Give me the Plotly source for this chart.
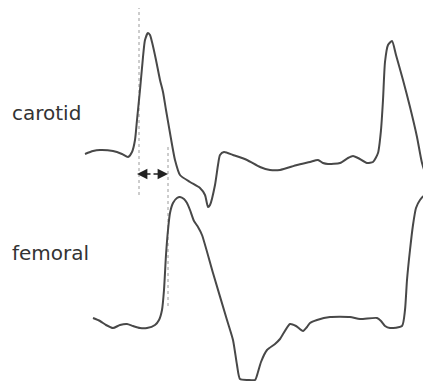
import plotly.graph_objects as go

# Waveform samples (time in px-like units, amplitude axis inverted)
carotid_t = [85, 93, 100, 113, 122, 128, 132, 135, 137, 140, 142, 145, 148, 150, 152, 156, 160, 163, 166, 170,
             175, 180, 190, 200, 205, 208, 210, 215, 218, 220, 224, 233, 247, 260, 270, 280, 297, 310, 318, 323,
             328, 340, 348, 353, 358, 367, 373, 378, 381, 383, 385, 388, 392, 396, 403, 410, 417, 422, 427, 431]
carotid_v = [154, 151, 150, 151, 154, 157, 152, 140, 120, 90, 68, 40, 33, 35, 42, 60, 80, 92, 110, 133,
             160, 175, 182, 188, 195, 207, 205, 185, 165, 155, 152, 155, 160, 167, 170, 170, 165, 162, 160, 163,
             164, 163, 158, 156, 158, 163, 162, 153, 130, 100, 62, 45, 41, 55, 80, 107, 137, 163, 177, 183]

femoral_t = [93, 100, 106, 113, 120, 127, 133, 140, 147, 155, 159, 162, 164, 166, 168, 170, 173, 177, 180, 184,
             187, 190, 194, 198, 202, 213, 227, 233, 237, 240, 248, 255, 258, 261, 267, 275, 280, 290, 296, 303,
             307, 310, 317, 330, 350, 360, 377, 381, 385, 390, 402, 405, 407, 410, 413, 416, 420, 424, 428, 431]
femoral_v = [318, 321, 325, 328, 325, 324, 326, 328, 328, 325, 320, 310, 290, 255, 230, 213, 203, 198, 197, 199,
             203, 210, 221, 227, 235, 273, 320, 340, 365, 379, 380, 380, 372, 362, 350, 344, 339, 324, 326, 331,
             327, 323, 320, 317, 317, 319, 318, 321, 326, 328, 326, 310, 280, 250, 225, 208, 200, 196, 198, 203]

# Foot markers (dotted lines) and transit-time arrow
foot_t = [139, 168]
foot_top = [0, 147]
foot_bottom = [198, 307]
arrow_v = 174
arrow_mid = 152

labels = ["carotid", "femoral"]
label_v = [113, 253]

fig = go.Figure()

for t, y0, y1 in zip(foot_t, foot_top, foot_bottom):
    fig.add_trace(go.Scatter(x=[t, t], y=[y0, y1], mode="lines",
                             line=dict(color="#9a9a9a", width=1, dash="dot"),
                             hoverinfo="skip", showlegend=False))

fig.add_trace(go.Scatter(x=carotid_t, y=carotid_v, mode="lines",
                         line=dict(color="#484848", width=2, shape="spline", smoothing=0.6),
                         showlegend=False))
fig.add_trace(go.Scatter(x=femoral_t, y=femoral_v, mode="lines",
                         line=dict(color="#484848", width=2, shape="spline", smoothing=0.6),
                         showlegend=False))

for tip in [foot_t[0] - 2, foot_t[1]]:
    fig.add_annotation(x=tip, y=arrow_v, ax=arrow_mid, ay=arrow_v,
                       xref="x", yref="y", axref="x", ayref="y",
                       text="", showarrow=True, arrowhead=2, arrowsize=1.3,
                       arrowwidth=1.6, arrowcolor="#222222")

for lab, v in zip(labels, label_v):
    fig.add_annotation(x=10, y=v, xref="x", yref="y", text=lab, showarrow=False,
                       xanchor="left", yanchor="middle",
                       font=dict(family="DejaVu Sans, sans-serif", size=20, color="#333333"))

# The page body has an 8px default margin, so the figure is sized/ranged to compensate.
fig.update_layout(
    width=423, height=373,
    margin=dict(l=0, r=0, t=0, b=0),
    paper_bgcolor="white", plot_bgcolor="white",
    xaxis=dict(range=[8, 431], visible=False, fixedrange=True),
    yaxis=dict(range=[381, 8], visible=False, fixedrange=True),
)

fig.write_html("out.html")
